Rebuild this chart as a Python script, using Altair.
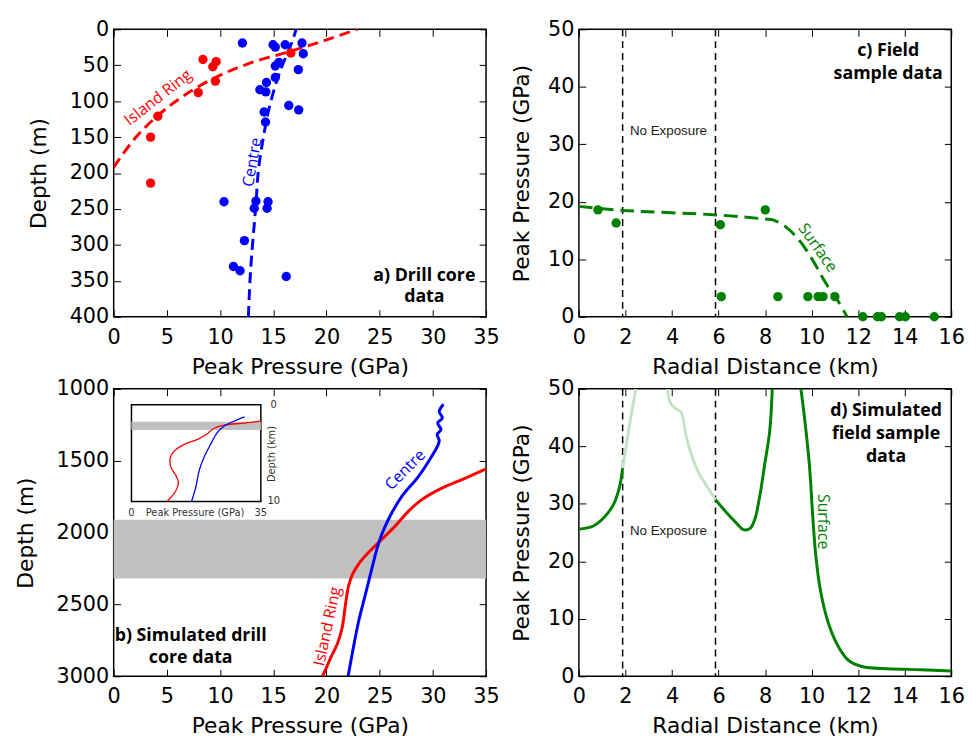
import altair as alt
import pandas as pd

# ---------------- data ----------------
# panel a: drill core data
a_blue_x = [12.1, 14.98, 15.19, 16.12, 17.70, 17.82, 15.53, 15.19, 17.36, 15.19, 14.36, 13.74, 14.3,
            16.46, 17.39, 14.14, 14.27, 10.37, 13.37, 13.21, 14.51, 14.42, 12.29, 11.26, 11.88, 16.22]
a_blue_d = [19, 21.5, 24.7, 21.5, 19, 34, 46, 51, 56, 67, 74, 84, 87,
            106, 112, 115, 129, 240, 239, 249, 240, 249, 294, 330, 336, 344]
a_red_x = [8.39, 9.63, 9.32, 9.56, 7.95, 4.15, 3.47, 3.47, 16.65]
a_red_d = [42, 45, 52, 72, 88, 121, 150, 214, 33]
a_redfit_x = [0, 1.98, 4.15, 6.62, 9.56, 12.81, 16.52, 19.93, 22.9]
a_redfit_d = [192, 152, 120, 92, 67, 47, 31, 15, 0]
a_bluefit_x = [12.66, 12.87, 13.37, 13.6, 14.05, 14.67, 15.6, 16.83, 17.14]
a_bluefit_d = [400, 335, 243, 197, 152, 106, 60, 15, 0]

# panel b: simulated drill core (main)
b_blue_x = [31.0, 30.6, 30.9, 30.45, 30.76, 30.4, 30.6, 30.45, 29.83, 28.6, 27.05, 25.96, 25.19,
            24.73, 24.26, 23.64, 23.02, 22.47, 22.03]
b_blue_d = [1107, 1158, 1203, 1237, 1283, 1317, 1358, 1397, 1477, 1614, 1751, 1888, 2014,
            2117, 2253, 2436, 2619, 2824, 3002]
b_red_x = [35.0, 32.9, 30.75, 28.9, 27.67, 26.43, 25.19, 23.95, 23.02, 22.47, 22.09, 21.78, 21.47,
           21.0, 20.4, 19.87, 19.6]
b_red_d = [1557, 1626, 1694, 1774, 1854, 1957, 2048, 2139, 2219, 2288, 2368, 2505, 2664,
           2779, 2870, 2961, 3002]
b_band = [1910, 2320]
# panel b inset (depth in km)
i_blue_x = [30.6, 27.7, 25.0, 23.2, 21.4, 19.6, 18.3, 17.4, 16.25]
i_blue_d = [1.26, 1.71, 2.22, 2.9, 4.1, 5.46, 6.83, 8.53, 10.0]
i_red_x = [35.0, 30.4, 25.0, 22.3, 20.5, 17.9, 14.3, 11.6, 10.5, 10.7, 12.05, 12.7, 12.05, 10.7, 9.64]
i_red_d = [1.71, 1.91, 2.12, 2.46, 3.0, 3.58, 4.1, 4.78, 5.46, 6.48, 7.34, 8.02, 8.87, 9.56, 10.0]
i_band = [1.77, 2.63]

# panel c: field sample data
c_x = [0.82, 1.60, 6.08, 8.01, 6.12, 8.55, 9.84, 10.28, 10.49, 11.0, 12.2, 12.83, 13.0, 13.78, 14.03, 15.27]
c_y = [18.6, 16.3, 16.0, 18.6, 3.5, 3.5, 3.5, 3.5, 3.5, 3.5, 0, 0, 0, 0, 0, 0]
c_fit_x = [0, 1.9, 6.0, 8.0, 8.34, 8.9, 9.47, 10.04, 10.6, 11.17, 11.52]
c_fit_y = [19.2, 18.5, 17.7, 17.0, 16.86, 15.6, 13.3, 9.9, 5.9, 2.5, 0]
exposure = [1.88, 5.87]

# panel d: simulated field sample data (segments: exposed = dark, unexposed = light)
d_seg = ["e1"] * 6 + ["u1"] * 4 + ["u2"] * 11 + ["e2"] * 10 + ["e3"] * 13
d_x = [0, 0.6, 1.1, 1.5, 1.75, 1.88,
       1.88, 2.05, 2.25, 2.45,
       3.82, 3.87, 3.98, 4.2, 4.38, 4.48, 4.6, 4.82, 5.16, 5.51, 5.87,
       5.87, 6.36, 6.78, 7.07, 7.35, 7.56, 7.77, 7.99, 8.2, 8.31,
       9.54, 9.68, 9.9, 10.04, 10.18, 10.39, 10.74, 11.17, 11.59, 12.16, 13.29, 14.7, 16.0]
d_y = [25.6, 26.1, 27.7, 30.0, 33.0, 36.2,
       36.2, 40.5, 45.5, 50,
       50, 48.3, 47.2, 46.5, 46.0, 44.8, 42.0, 38.7, 35.3, 33.0, 30.7,
       30.7, 28.4, 26.6, 25.5, 25.7, 27.3, 31.3, 37.0, 42.7, 50,
       50, 45.5, 37.0, 28.4, 21.0, 14.7, 9.0, 5.0, 2.74, 1.71, 1.31, 1.14, 0.91]
d_exposed = [s.startswith("e") for s in d_seg]

# ticks
ticks_p35 = [0, 5, 10, 15, 20, 25, 30, 35]
ticks_da = [0, 50, 100, 150, 200, 250, 300, 350, 400]
ticks_db = [1000, 1500, 2000, 2500, 3000]
ticks_r = [0, 2, 4, 6, 8, 10, 12, 14, 16]
ticks_pp = [0, 10, 20, 30, 40, 50]

# ---------------- helpers ----------------
W, H = 377, 291
RED, BLUE, GREEN, LIGHTGREEN = "#ff0000", "#0000ff", "#008000", "#c6e2c6"
LABEL_FONT = "Open Sans"


def sc(domain, reverse=False, rng=None):
    kw = dict(domain=domain, nice=False, zero=False)
    if reverse:
        kw["reverse"] = True
    if rng is not None:
        kw["range"] = rng
    return alt.Scale(**kw)


def ax_bottom(vals, title):
    return alt.Axis(orient="bottom", values=vals, title=title, offset=-7, tickSize=7, domain=False,
                    labelPadding=10, titlePadding=9, grid=False, labelFlush=False,
                    labelOverlap=False, format="d")


def ax_left(vals, title, tp):
    return alt.Axis(orient="left", values=vals, title=title, offset=-7, tickSize=7, domain=False,
                    labelPadding=5, titlePadding=tp, grid=False, labelOverlap=False, format="d")


def ax_blank(orient, vals):
    return alt.Axis(orient=orient, values=vals, title="", labels=False, offset=-7, tickSize=7,
                    domain=False, grid=False)


def df(**cols):
    d = pd.DataFrame(cols)
    d["i"] = range(len(d))
    return d


def frame_layer(xdom, ydom, xt, yt, yrev, xtitle, ytitle, tp):
    """invisible layer carrying left/bottom axes"""
    return alt.Chart(df(x=[xdom[0]], y=[ydom[0]])).mark_point(opacity=0).encode(
        x=alt.X("x:Q", scale=sc(xdom), axis=ax_bottom(xt, xtitle)),
        y=alt.Y("y:Q", scale=sc(ydom, yrev), axis=ax_left(yt, ytitle, tp)),
    )


def tick_layer(xdom, ydom, xt, yt, yrev):
    """invisible layer carrying top/right inward ticks"""
    return alt.Chart(df(x=[xdom[0]], y=[ydom[0]])).mark_point(opacity=0).encode(
        x=alt.X("x:Q", scale=sc(xdom), axis=ax_blank("top", xt)),
        y=alt.Y("y:Q", scale=sc(ydom, yrev), axis=ax_blank("right", yt)),
    )


def enc(xdom, ydom, yrev=False):
    return dict(
        x=alt.X("x:Q", scale=sc(xdom), axis=None),
        y=alt.Y("y:Q", scale=sc(ydom, yrev), axis=None),
    )


def text_layer(data, xdom, ydom, yrev=False, **mk):
    return alt.Chart(data).mark_text(**mk).encode(text="t:N", **enc(xdom, ydom, yrev))


def finish(layer):
    return layer.resolve_scale(x="independent", y="independent").resolve_axis(
        x="independent", y="independent").properties(width=W, height=H)


# ---------------- panel a ----------------
XA, YA = [0, 35], [0, 400]
pa = finish(alt.layer(
    frame_layer(XA, YA, ticks_p35, ticks_da, True, "Peak Pressure (GPa)", "Depth (m)", 19),
    alt.Chart(df(x=a_redfit_x, y=a_redfit_d)).mark_line(
        color=RED, strokeWidth=3, strokeDash=[11, 6], interpolate="catmull-rom", clip=True
    ).encode(order="i:Q", **enc(XA, YA, True)),
    alt.Chart(df(x=a_bluefit_x, y=a_bluefit_d)).mark_line(
        color=BLUE, strokeWidth=3, strokeDash=[11, 6], interpolate="catmull-rom", clip=True
    ).encode(order="i:Q", **enc(XA, YA, True)),
    alt.Chart(df(x=a_red_x, y=a_red_d)).mark_circle(color=RED, size=90, opacity=1).encode(**enc(XA, YA, True)),
    alt.Chart(df(x=a_blue_x, y=a_blue_d)).mark_circle(color=BLUE, size=90, opacity=1).encode(**enc(XA, YA, True)),
    text_layer(df(x=[4.18], y=[95], t=["Island Ring"]), XA, YA, True,
               font=LABEL_FONT, fontSize=16, color=RED, angle=322),
    text_layer(df(x=[13.03], y=[185], t=["Centre"]), XA, YA, True,
               font=LABEL_FONT, fontSize=16, color=BLUE, angle=280),
    text_layer(df(x=[29.2, 29.2], y=[343, 373], t=["a) Drill core", "data"]), XA, YA, True,
               font=LABEL_FONT, fontSize=18, fontWeight="bold", color="black"),
    tick_layer(XA, YA, ticks_p35, ticks_da, True),
))

# ---------------- panel b ----------------
XB, YB = [0, 35], [1000, 3000]
IX, IY = [0, 35], [0, 10]
IXR, IYR = [18, 149], [16, 114]


def ienc():
    return dict(
        x=alt.X("x:Q", scale=sc(IX, rng=IXR), axis=None),
        y=alt.Y("y:Q", scale=sc(IY, rng=IYR), axis=None),
    )


def itext(data, **mk):
    return alt.Chart(data).mark_text(font="DejaVu Sans", fontSize=10, color="#333333", **mk).encode(
        text="t:N", **ienc())


pb = finish(alt.layer(
    frame_layer(XB, YB, ticks_p35, ticks_db, True, "Peak Pressure (GPa)", "Depth (m)", 19),
    alt.Chart(df(x=[XB[0]], x2=[XB[1]], y=[b_band[0]], y2=[b_band[1]])).mark_rect(color="#c0c0c0").encode(
        x2="x2:Q", y2="y2:Q", **enc(XB, YB, True)),
    alt.Chart(df(x=b_red_x, y=b_red_d)).mark_line(
        color=RED, strokeWidth=3, interpolate="catmull-rom", clip=True
    ).encode(order="i:Q", **enc(XB, YB, True)),
    alt.Chart(df(x=b_blue_x, y=b_blue_d)).mark_line(
        color=BLUE, strokeWidth=3, interpolate="catmull-rom", clip=True
    ).encode(order="i:Q", **enc(XB, YB, True)),
    text_layer(df(x=[27.4], y=[1564], t=["Centre"]), XB, YB, True,
               font=LABEL_FONT, fontSize=16, color=BLUE, angle=315),
    text_layer(df(x=[20.1], y=[2653], t=["Island Ring"]), XB, YB, True,
               font=LABEL_FONT, fontSize=16, color=RED, angle=282),
    text_layer(df(x=[7.24, 7.24], y=[2719, 2870], t=["b) Simulated drill", "core data"]), XB, YB, True,
               font=LABEL_FONT, fontSize=18, fontWeight="bold", color="black"),
    # inset
    alt.Chart(df(x=[IX[0]], x2=[IX[1]], y=[IY[0]], y2=[IY[1]])).mark_rect(
        fill="white", stroke="black", strokeWidth=1.5).encode(x2="x2:Q", y2="y2:Q", **ienc()),
    alt.Chart(df(x=[IX[0]], x2=[IX[1]], y=[i_band[0]], y2=[i_band[1]])).mark_rect(color="#c0c0c0").encode(
        x2="x2:Q", y2="y2:Q", **ienc()),
    alt.Chart(df(x=i_red_x, y=i_red_d)).mark_line(color=RED, strokeWidth=1.3, interpolate="catmull-rom").encode(
        order="i:Q", **ienc()),
    alt.Chart(df(x=i_blue_x, y=i_blue_d)).mark_line(color=BLUE, strokeWidth=1.3, interpolate="catmull-rom").encode(
        order="i:Q", **ienc()),
    itext(df(x=[0, 17.2, 35], y=[10, 10, 10], t=["0", "Peak Pressure (GPa)", "35"]), dy=12),
    itext(df(x=[35, 35], y=[0, 10], t=["0", "10"]), dx=13),
    itext(df(x=[35], y=[5.1], t=["Depth (km)"]), dy=11, angle=270),
    tick_layer(XB, YB, ticks_p35, ticks_db, True),
))

# ---------------- panel c ----------------
XC, YC = [0, 16], [0, 50]


def vlines(xdom):
    return alt.Chart(df(x=exposure)).mark_rule(color="black", strokeWidth=1.5, strokeDash=[7, 5]).encode(
        x=alt.X("x:Q", scale=sc(xdom), axis=None))


pc = finish(alt.layer(
    frame_layer(XC, YC, ticks_r, ticks_pp, False, "Radial Distance (km)", "Peak Pressure (GPa)", 14),
    vlines(XC),
    alt.Chart(df(x=c_fit_x, y=c_fit_y)).mark_line(
        color=GREEN, strokeWidth=3, strokeDash=[14, 7], interpolate="catmull-rom", clip=True
    ).encode(order="i:Q", **enc(XC, YC)),
    alt.Chart(df(x=c_x, y=c_y)).mark_circle(color=GREEN, size=90, opacity=1, clip=False).encode(**enc(XC, YC)),
    text_layer(df(x=[3.85], y=[32.3], t=["No Exposure"]), XC, YC,
               font="Liberation Sans", fontSize=13.5, color="#222222"),
    text_layer(df(x=[10.26], y=[12.0], t=["Surface"]), XC, YC,
               font=LABEL_FONT, fontSize=16, color=GREEN, angle=55),
    text_layer(df(x=[13.29, 13.29], y=[46.2, 42.3], t=["c) Field", "sample data"]), XC, YC,
               font=LABEL_FONT, fontSize=18, fontWeight="bold", color="black"),
    tick_layer(XC, YC, ticks_r, ticks_pp, False),
))

# ---------------- panel d ----------------
d_df = df(x=d_x, y=d_y, seg=d_seg, exposed=d_exposed)
pd_ = finish(alt.layer(
    frame_layer(XC, YC, ticks_r, ticks_pp, False, "Radial Distance (km)", "Peak Pressure (GPa)", 14),
    vlines(XC),
    alt.Chart(d_df).transform_filter("!datum.exposed").mark_line(
        color=LIGHTGREEN, strokeWidth=3, interpolate="catmull-rom", clip=True
    ).encode(order="i:Q", detail="seg:N", **enc(XC, YC)),
    alt.Chart(d_df).transform_filter("datum.exposed").mark_line(
        color=GREEN, strokeWidth=3, interpolate="catmull-rom", clip=True
    ).encode(order="i:Q", detail="seg:N", **enc(XC, YC)),
    text_layer(df(x=[3.85], y=[25.3], t=["No Exposure"]), XC, YC,
               font="Liberation Sans", fontSize=13.5, color="#222222"),
    text_layer(df(x=[10.5], y=[26.9], t=["Surface"]), XC, YC,
               font=LABEL_FONT, fontSize=16, color=GREEN, angle=90),
    text_layer(df(x=[13.2, 13.2, 13.2], y=[46.1, 42.1, 38.2], t=["d) Simulated", "field sample", "data"]),
               XC, YC, font=LABEL_FONT, fontSize=18, fontWeight="bold", color="black"),
    tick_layer(XC, YC, ticks_r, ticks_pp, False),
))

chart = alt.concat(pa, pc, pb, pd_, columns=2, spacing={"row": 73, "column": 94}, bounds="flush").configure_view(
    stroke="black", strokeWidth=1.5
).configure_axis(
    labelFont="DejaVu Sans", labelFontSize=21, labelColor="black",
    titleFont="DejaVu Sans", titleFontSize=22, titleFontWeight="normal", titleColor="black",
    tickColor="black", tickWidth=1,
).properties(background="white")

chart.save("out.html", embed_options={"renderer": "svg", "actions": False})
